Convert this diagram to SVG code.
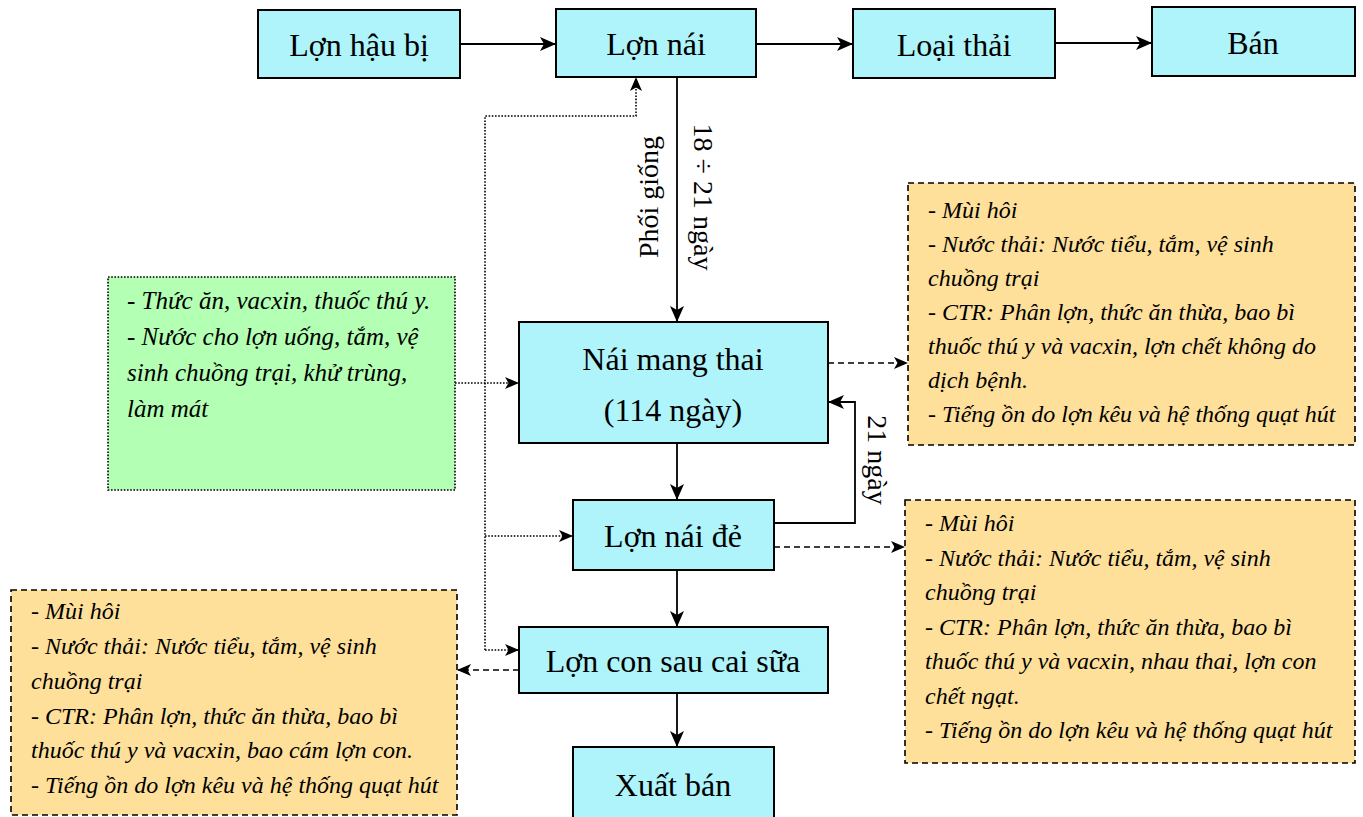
<svg xmlns="http://www.w3.org/2000/svg" width="1363" height="817" viewBox="0 0 1363 817">
  <defs>
    <marker id="arr" markerUnits="userSpaceOnUse" markerWidth="16" markerHeight="14" viewBox="0 0 16 14" refX="15" refY="7" orient="auto">
      <path d="M0,0 L16,7 L0,14 L4,7 z" fill="#000"/>
    </marker>
    <marker id="arrs" markerUnits="userSpaceOnUse" markerWidth="14" markerHeight="12" viewBox="0 0 14 12" refX="13" refY="6" orient="auto">
      <path d="M0,0 L14,6 L0,12 L3.5,6 z" fill="#000"/>
    </marker>
  </defs>
  <style>
    .stage { fill: #aef4fa; stroke: #000; stroke-width: 2; }
    .waste { fill: #ffe09b; stroke: #000; stroke-width: 1.6; stroke-dasharray: 6 4; }
    .input { fill: #b3ffb3; stroke: #000; stroke-width: 1.6; stroke-dasharray: 1.6 1.6; }
    .lbl { font-family: "Liberation Serif", "Times New Roman", serif; font-size: 32px; fill: #000; text-anchor: middle; }
    .note { font-family: "Liberation Serif", "Times New Roman", serif; font-size: 24px; font-style: italic; fill: #000; }
    .note-in { font-size: 25px; }
    .side { font-family: "Liberation Serif", "Times New Roman", serif; font-size: 28px; fill: #000; text-anchor: middle; }
    .solid { fill: none; stroke: #000; stroke-width: 1.8; }
    .dot { fill: none; stroke: #000; stroke-width: 1.6; stroke-dasharray: 1.6 1.6; }
    .dash { fill: none; stroke: #000; stroke-width: 1.6; stroke-dasharray: 6 4; }
  </style>

  <rect width="1363" height="817" fill="#fff"/>

  <!-- connectors -->
  <g id="connectors">
    <line class="solid" x1="460" y1="44" x2="555" y2="44" marker-end="url(#arr)"/>
    <line class="solid" x1="756" y1="44" x2="852" y2="44" marker-end="url(#arr)"/>
    <line class="solid" x1="1055" y1="43" x2="1151" y2="43" marker-end="url(#arr)"/>
    <line class="solid" x1="677" y1="77" x2="677" y2="321" marker-end="url(#arr)"/>
    <line class="solid" x1="677" y1="443" x2="677" y2="499" marker-end="url(#arr)"/>
    <line class="solid" x1="677" y1="570" x2="677" y2="626" marker-end="url(#arr)"/>
    <line class="solid" x1="677" y1="693" x2="677" y2="746" marker-end="url(#arr)"/>
    <polyline class="solid" points="774,523 855,523 855,402 829,402" marker-end="url(#arr)"/>

    <!-- inputs: dotted feed lines -->
    <polyline class="dot" points="485,650 485,116 636,116 636,78" marker-end="url(#arrs)"/>
    <line class="dot" x1="455" y1="383" x2="518" y2="383" marker-end="url(#arrs)"/>
    <line class="dot" x1="485" y1="536" x2="572" y2="536" marker-end="url(#arrs)"/>
    <line class="dot" x1="485" y1="650" x2="518" y2="650" marker-end="url(#arrs)"/>

    <!-- emissions: dashed lines -->
    <line class="dash" x1="828" y1="363" x2="907" y2="363" marker-end="url(#arrs)"/>
    <line class="dash" x1="774" y1="547" x2="904" y2="547" marker-end="url(#arrs)"/>
    <line class="dash" x1="519" y1="670" x2="458" y2="670" marker-end="url(#arrs)"/>

    <text class="side" transform="translate(658,197) rotate(-90)">Phối giống</text>
    <text class="side" transform="translate(694,197) rotate(90)">18 ÷ 21 ngày</text>
    <text class="side" transform="translate(868,460) rotate(90)">21 ngày</text>
  </g>

  <g id="lon-hau-bi">
    <rect class="stage" x="258" y="10" width="202" height="68"/>
    <text class="lbl" x="359" y="56">Lợn hậu bị</text>
  </g>
  <g id="lon-nai">
    <rect class="stage" x="556" y="9" width="200" height="68"/>
    <text class="lbl" x="656" y="55">Lợn nái</text>
  </g>
  <g id="loai-thai">
    <rect class="stage" x="853" y="9" width="202" height="69"/>
    <text class="lbl" x="954" y="56">Loại thải</text>
  </g>
  <g id="ban">
    <rect class="stage" x="1152" y="7" width="203" height="69"/>
    <text class="lbl" x="1253" y="54">Bán</text>
  </g>

  <g id="nai-mang-thai">
    <rect class="stage" x="519" y="322" width="309" height="121"/>
    <text class="lbl" x="673" y="370">Nái mang thai</text>
    <text class="lbl" x="673" y="421">(114 ngày)</text>
  </g>
  <g id="lon-nai-de">
    <rect class="stage" x="573" y="500" width="201" height="70"/>
    <text class="lbl" x="673" y="547">Lợn nái đẻ</text>
  </g>
  <g id="lon-con-sau-cai-sua">
    <rect class="stage" x="519" y="627" width="309" height="66"/>
    <text class="lbl" x="673" y="672">Lợn con sau cai sữa</text>
  </g>
  <g id="xuat-ban">
    <rect class="stage" x="573" y="747" width="201" height="80"/>
    <text class="lbl" x="673" y="796">Xuất bán</text>
  </g>

  <g id="dau-vao">
    <rect class="input" x="108" y="277" width="347" height="213"/>
    <text class="note note-in">
      <tspan x="127" y="309">- Thức ăn, vacxin, thuốc thú y.</tspan>
      <tspan x="127" y="345">- Nước cho lợn uống, tắm, vệ</tspan>
      <tspan x="127" y="381">sinh chuồng trại, khử trùng,</tspan>
      <tspan x="127" y="417">làm mát</tspan>
    </text>
  </g>

  <g id="chat-thai-mang-thai">
    <rect class="waste" x="908" y="183" width="447" height="262"/>
    <text class="note">
      <tspan x="928" y="218">- Mùi hôi</tspan>
      <tspan x="928" y="252">- Nước thải: Nước tiểu, tắm, vệ sinh</tspan>
      <tspan x="928" y="286">chuồng trại</tspan>
      <tspan x="928" y="320">- CTR: Phân lợn, thức ăn thừa, bao bì</tspan>
      <tspan x="928" y="354">thuốc thú y và vacxin, lợn chết không do</tspan>
      <tspan x="928" y="388">dịch bệnh.</tspan>
      <tspan x="928" y="422">- Tiếng ồn do lợn kêu và hệ thống quạt hút</tspan>
    </text>
  </g>

  <g id="chat-thai-nai-de">
    <rect class="waste" x="905" y="500" width="450" height="263"/>
    <text class="note">
      <tspan x="925" y="531">- Mùi hôi</tspan>
      <tspan x="925" y="566">- Nước thải: Nước tiểu, tắm, vệ sinh</tspan>
      <tspan x="925" y="600">chuồng trại</tspan>
      <tspan x="925" y="635">- CTR: Phân lợn, thức ăn thừa, bao bì</tspan>
      <tspan x="925" y="669">thuốc thú y và vacxin, nhau thai, lợn con</tspan>
      <tspan x="925" y="704">chết ngạt.</tspan>
      <tspan x="925" y="738">- Tiếng ồn do lợn kêu và hệ thống quạt hút</tspan>
    </text>
  </g>

  <g id="chat-thai-lon-con">
    <rect class="waste" x="11" y="590" width="446" height="225"/>
    <text class="note">
      <tspan x="31" y="619">- Mùi hôi</tspan>
      <tspan x="31" y="654">- Nước thải: Nước tiểu, tắm, vệ sinh</tspan>
      <tspan x="31" y="689">chuồng trại</tspan>
      <tspan x="31" y="724">- CTR: Phân lợn, thức ăn thừa, bao bì</tspan>
      <tspan x="31" y="758">thuốc thú y và vacxin, bao cám lợn con.</tspan>
      <tspan x="31" y="793">- Tiếng ồn do lợn kêu và hệ thống quạt hút</tspan>
    </text>
  </g>
</svg>
